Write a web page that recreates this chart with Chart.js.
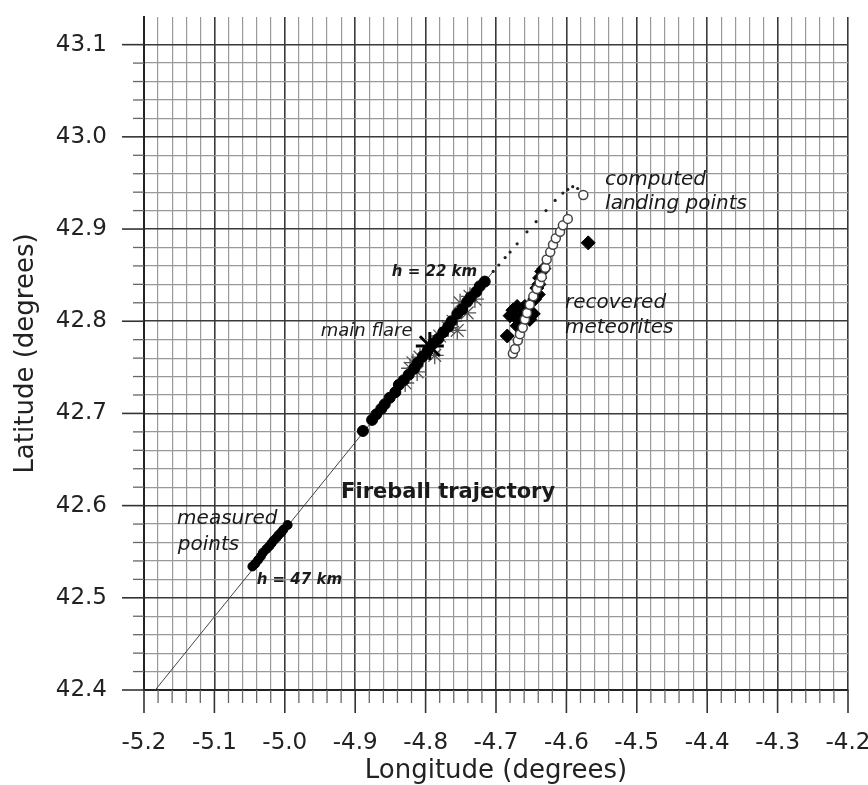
<!DOCTYPE html>
<html>
<head>
<meta charset="utf-8">
<script src="https://cdn.jsdelivr.net/npm/chart.js@4.4.1/dist/chart.umd.min.js"></script>
<style>
html, body { margin: 0; padding: 0; background: #fff; }
#wrap { width: 868px; height: 785px; }
</style>
</head>
<body>
<div id="wrap"><canvas id="graph1"></canvas></div>
<script>
// thin fitted trajectory line
var lineLon = [-5.184, -4.704];
var lineLat = [42.400, 42.854];

// measured points, low part (h = 47 km end)
var measLon = [-5.046, -5.042, -5.038, -5.034, -5.031, -5.026, -5.022, -5.019, -5.016, -5.012, -5.009, -5.005, -5.002, -4.996];
var measLat = [42.534, 42.537, 42.541, 42.545, 42.549, 42.553, 42.556, 42.559, 42.562, 42.565, 42.568, 42.571, 42.574, 42.579];

// measured points, upper part up to h = 22 km
var trajLon = [-4.889, -4.876, -4.870, -4.863, -4.858, -4.851, -4.843, -4.838, -4.831, -4.824, -4.816, -4.811, -4.804,
               -4.797, -4.789, -4.782, -4.775, -4.768, -4.763, -4.755, -4.748, -4.741, -4.736, -4.728, -4.723, -4.716];
var trajLat = [42.681, 42.693, 42.699, 42.705, 42.710, 42.717, 42.723, 42.731, 42.736, 42.742, 42.749, 42.755, 42.762,
               42.768, 42.776, 42.781, 42.788, 42.794, 42.800, 42.808, 42.813, 42.821, 42.826, 42.832, 42.838, 42.843];

// flare stars
var starLon = [-4.737, -4.730, -4.751, -4.741, -4.761, -4.768, -4.755, -4.780, -4.787, -4.808, -4.818, -4.822, -4.812, -4.829];
var starLat = [42.827, 42.824, 42.820, 42.809, 42.800, 42.793, 42.790, 42.784, 42.763, 42.761, 42.755, 42.749, 42.745, 42.733];
var flareLon = [-4.794];
var flareLat = [42.773];

// dark flight (computed, small dots)
var darkLon = [-4.704, -4.696, -4.687, -4.680, -4.670, -4.656, -4.643, -4.629, -4.616, -4.605, -4.598, -4.591, -4.584, -4.578];
var darkLat = [42.854, 42.861, 42.869, 42.875, 42.884, 42.897, 42.908, 42.920, 42.931, 42.939, 42.943, 42.946, 42.944, 42.940];

// computed landing points
var landLon = [-4.676, -4.673, -4.669, -4.666, -4.662, -4.659, -4.656, -4.652, -4.647, -4.642, -4.638, -4.635, -4.630,
               -4.628, -4.623, -4.619, -4.615, -4.609, -4.605, -4.598, -4.576];
var landLat = [42.765, 42.770, 42.779, 42.786, 42.793, 42.802, 42.809, 42.818, 42.827, 42.835, 42.842, 42.848, 42.858,
               42.867, 42.875, 42.883, 42.890, 42.897, 42.904, 42.911, 42.937];

// recovered meteorites
var metLon = [-4.632, -4.635, -4.639, -4.638, -4.642, -4.640, -4.645, -4.659, -4.670, -4.676, -4.663, -4.662, -4.655,
              -4.647, -4.652, -4.680, -4.669, -4.670, -4.684, -4.569];
var metLat = [42.857, 42.854, 42.840, 42.847, 42.836, 42.829, 42.824, 42.816, 42.816, 42.812, 42.813, 42.806, 42.809,
              42.808, 42.802, 42.806, 42.802, 42.795, 42.784, 42.885];

var notes = [
    {text: 'computed', lon: -4.545, lat: 42.953, font: 'italic 20px "DejaVu Sans"'},
    {text: 'landing points', lon: -4.545, lat: 42.927, font: 'italic 20px "DejaVu Sans"'},
    {text: 'h = 22 km', lon: -4.848, lat: 42.853, font: 'italic bold 15px "DejaVu Sans"'},
    {text: 'recovered', lon: -4.602, lat: 42.820, font: 'italic 20px "DejaVu Sans"'},
    {text: 'meteorites', lon: -4.602, lat: 42.793, font: 'italic 20px "DejaVu Sans"'},
    {text: 'main flare', lon: -4.949, lat: 42.789, font: 'italic 18px "DejaVu Sans"'},
    {text: 'Fireball trajectory', lon: -4.920, lat: 42.614, font: 'bold 21px "DejaVu Sans"'},
    {text: 'measured', lon: -5.153, lat: 42.586, font: 'italic 20px "DejaVu Sans"'},
    {text: 'points', lon: -5.152, lat: 42.558, font: 'italic 20px "DejaVu Sans"'},
    {text: 'h = 47 km', lon: -5.040, lat: 42.519, font: 'italic bold 15px "DejaVu Sans"'}
];

function pts(lon, lat) {
    return lon.map((v, i) => ({x: v, y: lat[i]}));
}
function isMajor(v) {
    return Math.abs(v * 10 - Math.round(v * 10)) < 1e-6;
}
function noPad(s) {
    s.paddingLeft = 0; s.paddingRight = 0; s.paddingTop = 0; s.paddingBottom = 0;
}

var tickMarks = {
    id: 'tickMarks',
    afterDraw(chart) {
        var c = chart.ctx, xs = chart.scales.x, ys = chart.scales.y, area = chart.chartArea;
        c.save();
        xs.ticks.forEach(t => {
            var px = xs.getPixelForValue(t.value), big = isMajor(t.value);
            c.strokeStyle = big ? '#333' : '#666';
            c.lineWidth = big ? 1.6 : 1.3;
            c.beginPath();
            c.moveTo(px, area.bottom);
            c.lineTo(px, area.bottom + (big ? 23 : 13));
            c.stroke();
        });
        ys.ticks.forEach(t => {
            var py = ys.getPixelForValue(t.value), big = isMajor(t.value);
            c.strokeStyle = big ? '#333' : '#666';
            c.lineWidth = big ? 1.6 : 1.3;
            c.beginPath();
            c.moveTo(area.left, py);
            c.lineTo(area.left - (big ? 22 : 11), py);
            c.stroke();
        });
        c.restore();
    },
    afterDatasetsDraw(chart) {
        var c = chart.ctx, xs = chart.scales.x, ys = chart.scales.y;
        c.save();
        c.fillStyle = '#1a1a1a';
        c.textAlign = 'left';
        c.textBaseline = 'middle';
        notes.forEach(n => {
            c.font = n.font;
            c.fillText(n.text, xs.getPixelForValue(n.lon), ys.getPixelForValue(n.lat));
        });
        c.restore();
    }
};

Chart.defaults.font.family = '"DejaVu Sans", sans-serif';
Chart.defaults.color = '#222';

var ctx = document.getElementById('graph1').getContext('2d');
var graph1 = new Chart(ctx, {
    type: 'scatter',
    data: {
        datasets: [
            {data: pts(flareLon, flareLat), pointStyle: 'star', pointRadius: 14, borderColor: '#000', borderWidth: 3},
            {data: pts(trajLon, trajLat), pointRadius: 5.5, backgroundColor: '#000', borderColor: '#000', borderWidth: 1},
            {data: pts(measLon, measLat), pointRadius: 4.5, backgroundColor: '#000', borderColor: '#000', borderWidth: 1},
            {data: pts(starLon, starLat), pointStyle: 'star', pointRadius: 9, borderColor: '#555', borderWidth: 1.3},
            {data: pts(landLon, landLat), pointRadius: 4.5, backgroundColor: '#fff', borderColor: '#444', borderWidth: 1.5},
            {data: pts(metLon, metLat), pointStyle: 'rectRot', pointRadius: 7, backgroundColor: '#000', borderColor: '#000'},
            {data: pts(darkLon, darkLat), pointRadius: 1.6, backgroundColor: '#222', borderColor: '#222', borderWidth: 0},
            {data: pts(lineLon, lineLat), showLine: true, pointRadius: 0, borderColor: '#444', borderWidth: 1}
        ]
    },
    options: {
        animation: false,
        responsive: true,
        maintainAspectRatio: false,
        layout: {padding: {top: 7, right: 20, left: 0, bottom: 0}},
        plugins: {legend: {display: false}, tooltip: {enabled: false}},
        scales: {
            x: {
                type: 'linear', min: -5.2, max: -4.2,
                afterFit: s => { s.height = 95; noPad(s); },
                ticks: {stepSize: 0.02, autoSkip: false, maxRotation: 0, minRotation: 0, padding: 39,
                        font: {size: 23}, color: '#222',
                        callback: v => isMajor(v) ? v.toFixed(1) : ''},
                grid: {drawTicks: false,
                       color: c => isMajor(c.tick.value) ? '#3a3a3a' : '#999',
                       lineWidth: c => isMajor(c.tick.value) ? 1.6 : 1.2},
                border: {color: '#222', width: 2},
                title: {display: true, text: 'Longitude (degrees)', font: {size: 26, lineHeight: 1},
                        color: '#222', padding: {top: 0, bottom: 1}}
            },
            y: {
                type: 'linear', min: 42.4, max: 43.13,
                afterFit: s => { s.width = 144; noPad(s); },
                afterBuildTicks: s => { s.ticks = s.ticks.filter(t => t.value < 43.121); },
                ticks: {stepSize: 0.02, autoSkip: false, padding: 37,
                        font: {size: 23}, color: '#222',
                        callback: v => isMajor(v) ? v.toFixed(1) : ''},
                grid: {drawTicks: false,
                       color: c => isMajor(c.tick.value) ? '#3a3a3a' : '#999',
                       lineWidth: c => isMajor(c.tick.value) ? 1.6 : 1.2},
                border: {color: '#222', width: 2},
                title: {display: true, text: 'Latitude (degrees)', font: {size: 26, lineHeight: 1},
                        color: '#222', padding: {top: 13, bottom: 0}}
            }
        }
    },
    plugins: [tickMarks]
});
</script>
</body>
</html>
